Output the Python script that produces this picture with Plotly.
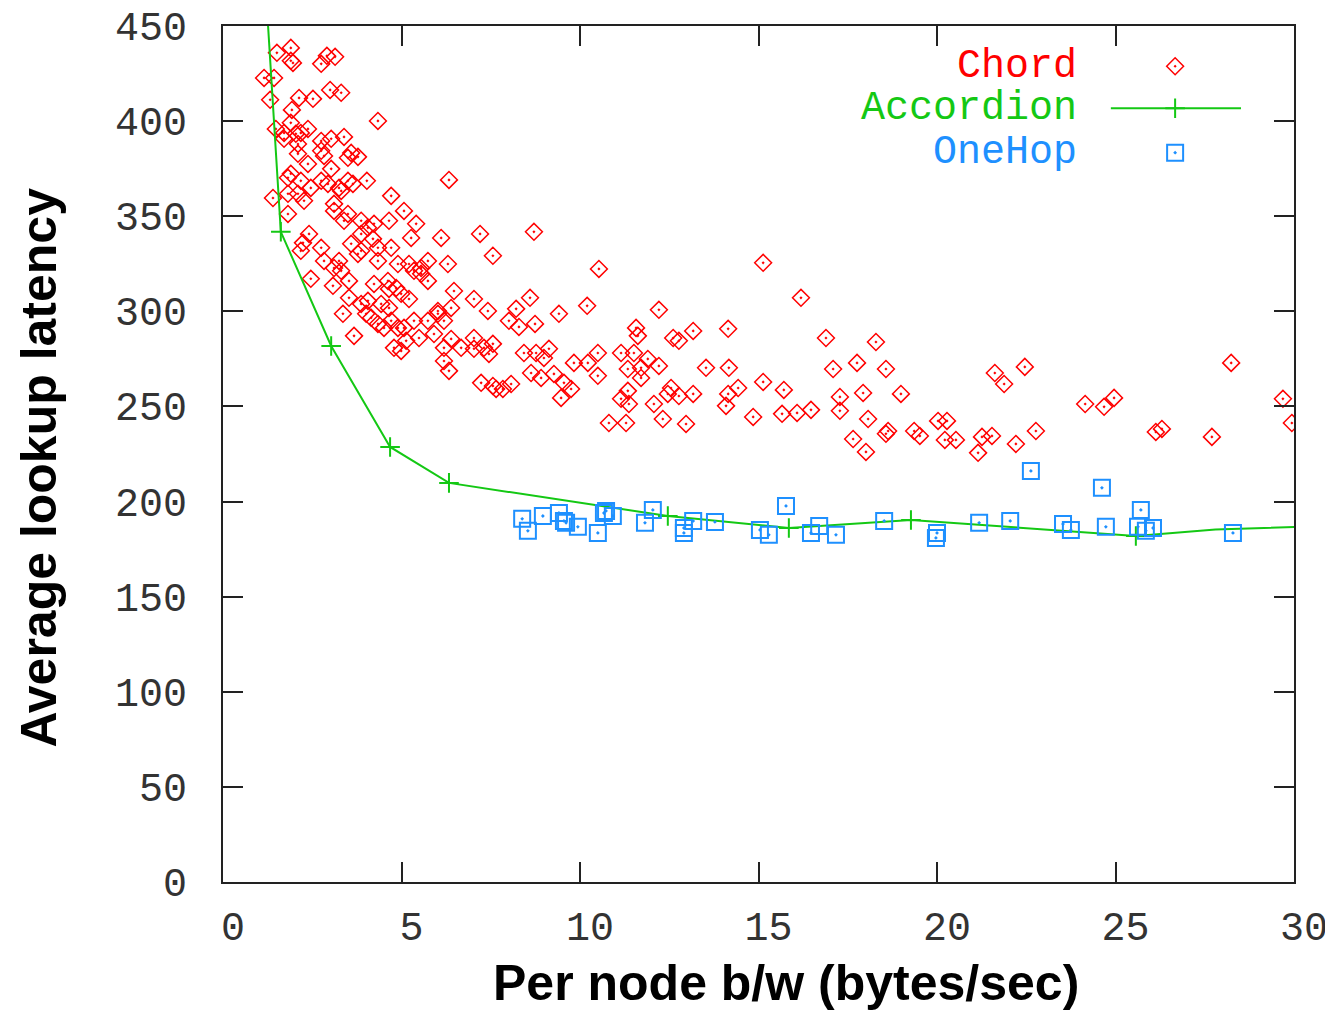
import plotly.graph_objects as go

# Chord: (b/w, latency) pairs
chord_x = [1.51, 1.90, 1.96, 1.90, 2.75, 2.91, 3.14, 1.15, 1.43, 1.32, 2.13, 2.52, 3.00, 3.31, 1.93,
           4.34, 1.48, 1.90, 2.18, 1.71, 2.38, 2.10, 2.75, 3.03, 3.39, 2.83, 2.38, 2.10, 3.50, 3.78,
           3.03, 4.03, 6.33, 1.82, 2.18, 2.75, 3.31, 4.71, 1.40, 2.10, 1.82, 2.27, 2.46, 3.25, 3.64,
           5.07, 3.11, 3.50, 3.87, 4.23, 3.87, 4.20, 3.59, 3.78, 4.65, 5.41, 5.27, 6.11, 1.82, 2.41,
           2.24, 2.75, 2.83, 3.11, 3.25, 3.53, 2.46, 3.08, 4.34, 4.71, 4.34, 4.90, 5.21, 5.74, 5.55,
           5.74, 4.23, 4.62, 4.99, 5.21, 3.53, 3.36, 4.01, 4.43, 4.34, 4.71, 5.07, 5.13, 5.49, 5.74,
           6.02, 3.67, 4.99, 5.91, 6.39, 7.03, 7.20, 8.71, 7.56, 6.30, 10.53, 6.47, 7.03, 7.42, 8.21,
           8.60, 8.01, 8.29, 8.74, 9.41, 10.20, 12.21, 11.57, 11.62, 12.61, 12.77, 13.17, 14.15, 6.39, 6.67,
           7.03, 7.31, 7.56, 7.45, 6.19, 6.33, 8.43, 8.77, 9.13, 8.99, 8.63, 8.91, 9.27, 9.55, 9.75,
           9.47, 9.83, 10.22, 10.50, 10.50, 11.15, 11.51, 11.34, 11.71, 11.90, 12.21, 11.71, 11.15, 11.34, 11.37,
           10.81, 11.29, 12.07, 12.32, 12.46, 12.55, 12.77, 13.17, 12.97, 13.53, 14.17, 14.15, 14.09, 14.43, 7.23,
           7.65, 7.84, 8.07, 7.56, 15.13, 16.19, 16.89, 18.29, 17.09, 17.76, 18.57, 15.13, 15.71, 14.85,
           15.66, 16.08, 16.47, 17.28, 17.28, 17.93, 18.07, 18.99, 17.65, 18.01, 18.57, 18.63, 19.36, 19.52,
           20.03, 20.28, 20.22, 20.53, 21.26, 21.54, 21.15, 22.21, 22.77, 21.62, 21.88, 22.46, 24.15, 24.68,
           24.96, 26.13, 26.30, 27.70, 28.24, 29.69, 29.94,
           1.71, 2.04, 2.75, 3.59, 1.90, 2.94, 3.50, 3.39, 4.06, 3.87, 2.18, 3.31, 3.87, 5.35,
           4.65, 3.11, 5.55, 4.85, 4.06, 4.65, 6.02, 5.35, 6.19, 4.15, 4.51, 4.90, 4.79, 6.19]
chord_y = [435.9, 438.5, 430.6, 431.7, 430.1, 434.3, 433.8, 422.7, 422.7, 411.2, 412.2, 411.7, 416.4, 414.9, 405.9,
           400.1, 395.9, 399.1, 393.8, 390.7, 395.9, 388.0, 389.6, 390.7, 391.7, 381.7, 377.5, 382.8, 380.7, 381.2,
           374.9, 368.6, 369.1, 370.2, 368.6, 368.6, 363.3, 360.7, 359.6, 361.8, 361.8, 358.1, 364.9, 364.9, 367.0,
           352.8, 356.5, 351.2, 347.6, 346.0, 340.7, 338.1, 335.5, 330.2, 347.6, 346.0, 338.6, 338.6, 351.2, 340.7,
           336.0, 333.4, 326.5, 322.8, 326.5, 316.0, 317.1, 313.4, 333.4, 333.4, 326.5, 324.9, 324.9, 326.5, 319.7,
           316.0, 314.4, 316.0, 309.2, 306.5, 307.1, 298.7, 298.7, 303.9, 293.4, 295.0, 291.3, 284.5, 286.0, 295.0,
           300.2, 287.1, 279.2, 288.1, 301.8, 286.0, 340.7, 341.8, 329.2, 324.9, 322.3, 310.7, 306.5, 300.2, 301.3,
           307.1, 295.0, 291.8, 293.4, 298.7, 302.9, 300.8, 291.3, 287.1, 286.0, 284.5, 289.7, 290.8, 285.5, 280.8,
           280.3, 280.8, 282.9, 277.6, 273.9, 268.7, 278.1, 278.1, 280.3, 275.5, 267.6, 265.0, 267.1, 262.4, 259.2,
           254.5, 272.9, 272.9, 278.1, 266.1, 278.1, 278.1, 269.7, 270.3, 275.0, 271.3, 265.0, 254.0, 258.2, 251.3,
           241.3, 241.3, 251.3, 243.4, 256.6, 259.7, 255.5, 256.6, 240.8, 270.3, 270.3, 256.6, 250.3, 259.7, 262.4,
           259.2, 259.2, 261.8, 260.8, 325.5, 307.1, 286.0, 283.9, 269.7, 272.9, 269.7, 262.9, 258.7, 244.5,
           246.1, 246.6, 248.2, 255.0, 247.7, 257.1, 243.4, 256.6, 232.9, 226.1, 235.6, 237.1, 237.1, 234.5,
           242.4, 242.4, 232.4, 232.4, 234.0, 234.5, 225.6, 230.3, 237.1, 267.6, 261.8, 270.8, 251.3, 249.8,
           254.5, 236.6, 238.2, 234.0, 272.9, 254.0, 241.3,
           393.8, 393.3, 384.4, 383.3, 372.3, 367.0, 368.6, 347.6, 343.9, 331.8, 331.8, 321.3, 303.9, 321.3,
           311.8, 352.8, 322.8, 312.3, 305.5, 301.8, 298.7, 295.0, 295.0, 296.6, 291.3, 291.3, 280.8, 280.8]

# Accordion frontier (line vertices) and its marked points
accordion_line_x = [1.17, 1.62, 3.03, 4.68, 6.33, 12.46, 15.85, 19.27, 25.57, 27.8, 31.5]
accordion_line_y = [478.0, 341.8, 281.8, 228.7, 209.8, 192.4, 186.1, 190.3, 181.9, 185.3, 187.5]
accordion_x = [1.62, 3.03, 4.68, 6.33, 12.46, 15.85, 19.27, 25.57]
accordion_y = [341.8, 281.8, 228.7, 209.8, 192.4, 186.1, 190.3, 181.9]

# OneHop
onehop_x = [8.38, 8.54, 8.96, 9.41, 9.55, 9.61, 9.94, 10.50, 10.67, 10.73, 10.92, 11.82, 12.04,
            12.91, 12.91, 13.17, 13.78, 15.04, 15.29, 15.77, 16.47, 16.70, 17.17, 18.52, 20.00,
            19.97, 21.18, 22.05, 22.63, 23.53, 23.75, 24.62, 24.73, 25.71, 25.63, 25.85, 26.05, 28.29]
onehop_y = [190.9, 184.6, 192.4, 194.0, 189.8, 188.8, 186.7, 183.5, 194.0, 195.1, 192.4, 188.8, 195.6,
            186.1, 183.5, 189.8, 189.3, 185.1, 182.5, 197.7, 183.5, 187.2, 182.5, 189.8, 183.5,
            180.9, 188.8, 189.8, 216.1, 188.2, 185.1, 207.2, 186.7, 195.6, 186.7, 184.6, 186.1, 183.5]

x_ticks = [0, 5, 10, 15, 20, 25, 30]
y_ticks = [0, 50, 100, 150, 200, 250, 300, 350, 400, 450]

RED = "#ff0000"
GREEN = "#14c814"
BLUE = "#1e90ff"
AXIS = "#222222"
MONO = "Liberation Mono"

chord_marker = dict(symbol="diamond-open-dot", size=13, color=RED, line=dict(color=RED, width=1.5))
cross_marker = dict(symbol="cross-thin-open", size=14, color=GREEN, line=dict(color=GREEN, width=2))
hop_marker = dict(symbol="square-open-dot", size=16, color=BLUE, line=dict(color=BLUE, width=2))

fig = go.Figure()
fig.add_trace(go.Scatter(x=chord_x, y=chord_y, mode="markers", marker=chord_marker))
fig.add_trace(go.Scatter(x=accordion_line_x, y=accordion_line_y, mode="lines",
                         line=dict(color=GREEN, width=2)))
fig.add_trace(go.Scatter(x=accordion_x, y=accordion_y, mode="markers", marker=cross_marker))
fig.add_trace(go.Scatter(x=onehop_x, y=onehop_y, mode="markers", marker=hop_marker))

# legend keys, drawn on a hidden 0..1 overlay of the plot area
key_x = 0.889
key_rows = {"Chord": 0.953, "Accordion": 0.904, "OneHop": 0.852}
fig.add_trace(go.Scatter(x=[key_x], y=[key_rows["Chord"]], xaxis="x2", yaxis="y2",
                         mode="markers", marker=chord_marker))
fig.add_trace(go.Scatter(x=[0.829, 0.9505], y=[key_rows["Accordion"]] * 2, xaxis="x2", yaxis="y2",
                         mode="lines", line=dict(color=GREEN, width=2)))
fig.add_trace(go.Scatter(x=[key_x], y=[key_rows["Accordion"]], xaxis="x2", yaxis="y2",
                         mode="markers", marker=cross_marker))
fig.add_trace(go.Scatter(x=[key_x], y=[key_rows["OneHop"]], xaxis="x2", yaxis="y2",
                         mode="markers", marker=hop_marker))

for name, col in zip(key_rows, [RED, GREEN, BLUE]):
    fig.add_annotation(x=0.799, y=key_rows[name], xref="paper", yref="paper", text=name,
                       showarrow=False, xanchor="right", yanchor="middle",
                       font=dict(family=MONO, size=40, color=col))

fig.add_annotation(x=0.526, y=-0.118, xref="paper", yref="paper", showarrow=False,
                   xanchor="center", yanchor="middle",
                   text="<b>Per node b/w (bytes/sec)</b>",
                   font=dict(family="Liberation Sans", size=50, color="black"))
fig.add_annotation(x=-0.172, y=0.484, xref="paper", yref="paper", showarrow=False,
                   xanchor="center", yanchor="middle",
                   text="<b>Average lookup latency</b>", textangle=-90,
                   font=dict(family="Liberation Sans", size=50, color="black"))

axis_common = dict(showline=True, linecolor=AXIS, linewidth=2, mirror="allticks",
                   ticks="inside", ticklen=20, tickwidth=2, tickcolor=AXIS,
                   showgrid=False, zeroline=False, automargin=False,
                   ticklabeloverflow="allow",
                   tickfont=dict(family=MONO, size=40, color="#333333"))

# page body adds ~7px offset, margins compensate
fig.update_layout(
    width=1333, height=1010,
    margin=dict(l=215, r=47, t=18, b=136),
    paper_bgcolor="white", plot_bgcolor="white",
    showlegend=False,
    xaxis=dict(range=[0, 30], tickvals=x_ticks, ticktext=[str(v) for v in x_ticks],
               ticklabelstandoff=8, ticklabelshift=10, **axis_common),
    yaxis=dict(range=[0, 450], tickvals=y_ticks, ticktext=[str(v) for v in y_ticks],
               ticklabelstandoff=26, **axis_common),
    xaxis2=dict(overlaying="x", range=[0, 1], visible=False),
    yaxis2=dict(overlaying="y", range=[0, 1], visible=False),
)

fig.write_html("out.html")
